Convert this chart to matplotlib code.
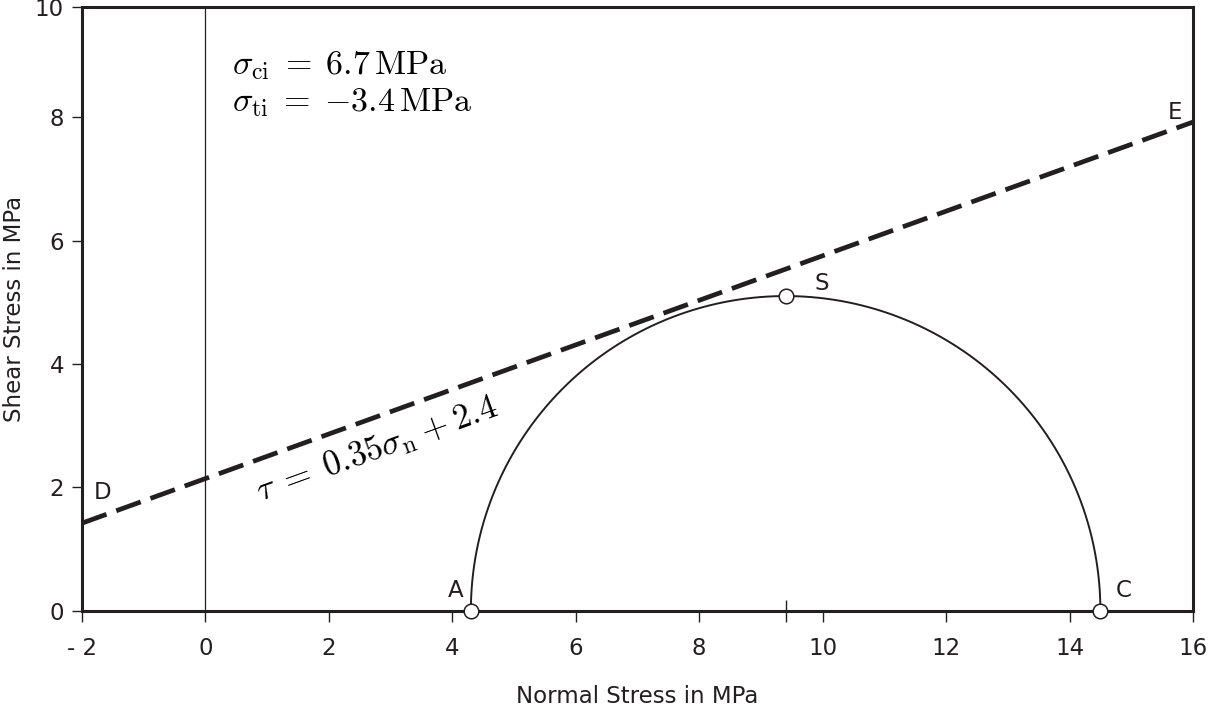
import numpy as np
import matplotlib
matplotlib.use("Agg")
import matplotlib.pyplot as plt

plt.rcParams["mathtext.fontset"] = "cm"

# Mohr circle data (MPa)
sigma_A = 4.3
sigma_C = 14.5
center = (sigma_A + sigma_C) / 2
radius = (sigma_C - sigma_A) / 2

# failure envelope end points D and E
env_x = [-2, 16]
env_y = [1.42, 7.92]

x_ticks = [-2, 0, 2, 4, 6, 8, 10, 12, 14, 16]
x_labels = ["- 2", "0", "2", "4", "6", "8", "10", "12", "14", "16"]
y_top = 9.78
y_ticks = [0, 2, 4, 6, 8, y_top]
y_labels = ["0", "2", "4", "6", "8", "10"]

INK = "#231f20"

fig = plt.figure(figsize=(12.12, 7.09), dpi=100)
ax = fig.add_axes([0.0677, 0.1386, 0.9166, 0.8511])
ax.set_xlim(-2, 16)
ax.set_ylim(0, y_top)

for s in ax.spines.values():
    s.set_linewidth(2.2)
    s.set_color(INK)

ax.set_xticks(x_ticks)
ax.set_xticklabels(x_labels)
ax.set_yticks(y_ticks)
ax.set_yticklabels(y_labels)
ax.tick_params(axis="x", direction="out", length=8, width=1, color=INK,
               labelsize=16.5, labelcolor=INK, pad=11)
ax.tick_params(axis="y", direction="out", length=7, width=1, color=INK,
               labelsize=16.5, labelcolor=INK, pad=6)

ax.set_xlabel("Normal Stress in MPa", fontsize=16.5, color=INK, labelpad=18)
ax.set_ylabel("Shear Stress in MPa", fontsize=16.5, color=INK, va="center")
ax.yaxis.set_label_coords(-0.0605, 0.5)

# sigma = 0 line
ax.axvline(0, color=INK, lw=0.9)

# envelope
ax.plot(env_x, env_y, color=INK, lw=3.4, dashes=(5.5, 2.2), solid_capstyle="butt")

# Mohr semicircle
t = np.linspace(0, np.pi, 400)
ax.plot(center + radius * np.cos(t), radius * np.sin(t), color=INK, lw=1.4)

# centre tick
ax.plot([center], [0], marker="|", ms=16, mew=1, color=INK, clip_on=False, zorder=5)

# points A, C, S
ax.plot([sigma_A, sigma_C, center], [0, 0, radius], "o", ms=10.5, mfc="white",
        mec=INK, mew=1.1, clip_on=False, zorder=6)

lab = dict(fontsize=16.5, color=INK, ha="center", va="center")
ax.text(-1.66, 1.91, "D", **lab)
ax.text(15.71, 8.07, "E", **lab)
ax.text(9.98, 5.31, "S", **lab)
ax.text(4.06, 0.33, "A", **lab)
ax.text(14.87, 0.33, "C", **lab)

ax.text(0.43, 8.84, r"$\sigma_{\rm ci}\;=\;6.7\,{\rm MPa}$", fontsize=24.5,
        color="black", ha="left", va="center")
ax.text(0.43, 8.24, r"$\sigma_{\rm ti}\;=\;{-}3.4\,{\rm MPa}$", fontsize=24.5,
        color="black", ha="left", va="center")
ax.text(2.78, 2.62, r"$\tau\;=\;0.35\sigma_{\rm n}\:+\:2.4$", fontsize=25,
        color="black", ha="center", va="center", rotation=19.9,
        rotation_mode="anchor")

fig.savefig("out.png", dpi=100)
